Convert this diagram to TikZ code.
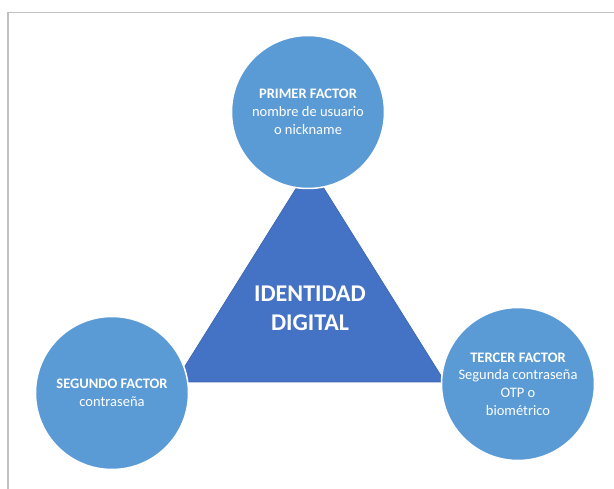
\documentclass[tikz,border=0pt]{standalone}
\usepackage{fontspec}
\setmainfont{Carlito}
\definecolor{factorblue}{HTML}{5B9BD5}
\definecolor{coreblue}{HTML}{4472C4}
\definecolor{coreedge}{HTML}{3F66B0}
\definecolor{framegray}{HTML}{C0C0C0}
\begin{document}
\begin{tikzpicture}[x=1pt, y=-1pt, every node/.style={text=white, align=center}]
  \tikzstyle{factor}=[circle, fill=factorblue, draw=white, line width=1.5pt, minimum size=153pt, inner sep=0pt, font=\fontsize{14.5}{17.8}\selectfont]
  \tikzstyle{core}=[fill=coreblue, draw=coreedge, line width=0.6pt]

\useasboundingbox (0,0) rectangle (614,489);
\draw[framegray, line width=1.5pt] (8,489) -- (8,12.5) -- (614,12.5);

% triangle behind the three factors
\coordinate (apex) at (310,166);
\coordinate (base_l) at (175,382);
\coordinate (base_r) at (445,382);
\draw[core] (apex) -- (base_l) -- (base_r) -- cycle;
\node [font=\fontsize{24}{29}\selectfont\bfseries] (id) at (310,308) {IDENTIDAD\\DIGITAL};

\node [factor] (f1) at (308,112) {\textbf{PRIMER FACTOR}\\nombre de usuario\\o nickname};
\node [factor] (f2) at (112,393) {\textbf{SEGUNDO FACTOR}\\contraseña};
\node [factor] (f3) at (518,384) {\textbf{TERCER FACTOR}\\Segunda contraseña\\OTP o\\biométrico};

\end{tikzpicture}
\end{document}
